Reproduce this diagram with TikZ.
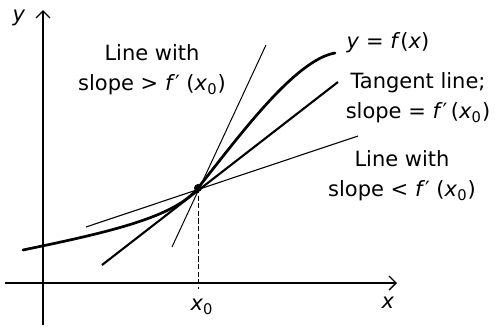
\documentclass[tikz,border=0pt]{standalone}
\usepackage{fontspec}
\setmainfont{DejaVu Sans}
\usetikzlibrary{arrows.meta}
\newcommand{\fprime}{\textit{f}′}
\newcommand{\atxo}{(\textit{x}\textsubscript{0})}

\begin{document}
\begin{tikzpicture}[x=0.5pt,y=-0.5pt,
  axis/.style={line width=0.7pt,-{Straight Barb[length=3.5pt,width=7pt]}},
  lbl/.style={font=\fontsize{10.5}{15}\selectfont,align=center,inner sep=0pt}]
  \useasboundingbox (0,0) rectangle (498,327);
  % axes
  \coordinate (xs) at (5,283);  \coordinate (xe) at (397,283);
  \coordinate (ys) at (43,325); \coordinate (ye) at (43,10);
  \draw[axis] (xs) -- (xe);
  \draw[axis] (ys) -- (ye);
  \node[lbl] (ylab) at (19,18) {\textit{y}};
  \node[lbl] (xlab) at (388,303) {\textit{x}};
  % the point (x0, f(x0))
  \coordinate (P) at (198,188);
  \coordinate (Pfoot) at (198,289);
  \draw[line width=0.5pt,dash pattern=on 2.6pt off 1.2pt] (P) -- (Pfoot);
  \node[lbl] (x0lab) at (202,307) {\textit{x}\textsubscript{0}};
  % three lines through P
  \coordinate (steepA) at (172,247); \coordinate (steepB) at (266,45);
  \coordinate (tanA) at (102,265);   \coordinate (tanB) at (338,82);
  \coordinate (flatA) at (86,227);   \coordinate (flatB) at (358,136);
  \draw[line width=0.5pt] (steepA) -- (steepB);
  \draw[line width=1.05pt] (tanA) -- (tanB);
  \draw[line width=0.55pt] (flatA) -- (flatB);
  % y = f(x)
  \coordinate (fA) at (23,250); \coordinate (fB) at (335,53);
  \draw[line width=1.35pt,line cap=round] (fA) .. controls (110,232) and (175,217) .. (P)
    .. controls (240,135) and (295,60) .. (fB);
  \fill (P) circle (2pt);
  % labels
  \node[lbl] (steeplab) at (152,70) {Line with\\slope > \fprime\ \atxo};
  \node[lbl] (curvelab) at (388,43) {\textit{y} = \textit{f}(\textit{x})};
  \node[lbl] (tanlab) at (418,98) {Tangent line;\\slope = \fprime\,\atxo};
  \node[lbl] (flatlab) at (402,176) {Line with\\slope < \fprime\ \atxo};
\end{tikzpicture}
\end{document}
